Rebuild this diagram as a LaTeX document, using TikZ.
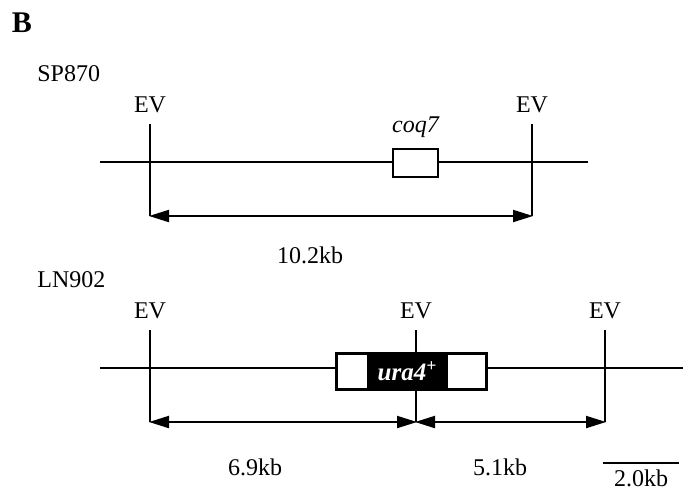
\documentclass[tikz,border=0pt]{standalone}
\usepackage{fontspec}
\setmainfont{Liberation Serif}
\usetikzlibrary{arrows.meta, positioning, calc}
\tikzset{
  gm/txt/.style={font=\fontsize{12}{14}\selectfont, inner sep=0pt},
  gm/strain/.style={gm/txt, anchor=west},
  gm/ev/.style={gm/txt, above=5.5pt of #1},
  gm/chrom/.style={line width=1pt},
  gm/gene/.style={rectangle, draw, fill=white, line width=1pt, inner sep=0pt},
  gm/marker/.style={rectangle, fill=black, inner sep=0pt, text=white,
    font=\fontsize{12.5}{14}\selectfont\bfseries\itshape},
  gm/dim/.style={{Triangle[length=10pt,width=6pt]}-{Triangle[length=10pt,width=6pt]},
    line width=1pt, shorten <=-0.5pt, shorten >=-0.5pt}
}
\begin{document}
\begin{tikzpicture}[x=0.5pt, y=-0.5pt]
  \useasboundingbox (0,0) rectangle (683,495);
  \node[gm/txt, font=\fontsize{15}{17}\selectfont\bfseries] (lab) at (22,23) {B};

  % SP870
  \node[gm/strain] (sp) at (37,74) {SP870};
  \coordinate (sL) at (100,162);
  \coordinate (sR) at (588,162);
  \draw[gm/chrom] (sL) -- (sR);
  \coordinate (sa1) at (150,124);
  \coordinate (sb1) at (150,216);
  \coordinate (sa2) at (532,124);
  \coordinate (sb2) at (532,216);
  \draw[gm/chrom] (sa1) -- (sb1);
  \draw[gm/chrom] (sa2) -- (sb2);
  \node[gm/ev=sa1] (sev1) {EV};
  \node[gm/ev=sa2] (sev2) {EV};
  \node[gm/gene, minimum width=22.5pt, minimum height=14pt] (coq) at (415.5,163) {};
  \node[gm/txt, above=5pt of coq] (coqlbl) {\itshape coq7};
  \draw[gm/dim] (sb1) -- (sb2);
  \node[gm/txt] (s102) at (310,255) {10.2kb};

  % LN902
  \node[gm/strain] (ln) at (37,280) {LN902};
  \coordinate (lL) at (100,368);
  \coordinate (lR) at (683,368);
  \draw[gm/chrom] (lL) -- (lR);
  \foreach \i/\x in {1/150, 2/416, 3/605} {
    \coordinate (la\i) at (\x,330);
    \coordinate (lb\i) at (\x,422);
    \draw[gm/chrom] (la\i) -- (lb\i);
    \node[gm/ev=la\i] (lev\i) {EV};
  }
  \node[gm/gene, minimum width=74.5pt, minimum height=17.5pt] (ura) at (411.5,371.5) {};
  \node[gm/marker, minimum width=40.5pt, minimum height=17.5pt] (urab) at (407.5,371.5) {ura4\textsuperscript{+}};
  \draw[gm/chrom] (ura.north west) rectangle (ura.south east);
  \draw[gm/dim] (lb1) -- (lb2);
  \draw[gm/dim] (lb2) -- (lb3);
  \node[gm/txt] (l69) at (255,467) {6.9kb};
  \node[gm/txt] (l51) at (500,467) {5.1kb};

  % scale bar
  \coordinate (bar1) at (603,463);
  \coordinate (bar2) at (679,463);
  \draw[gm/chrom] (bar1) -- (bar2);
  \node[gm/txt, below=3pt of $(bar1)!0.5!(bar2)$] (barlbl) {2.0kb};
\end{tikzpicture}
\end{document}
